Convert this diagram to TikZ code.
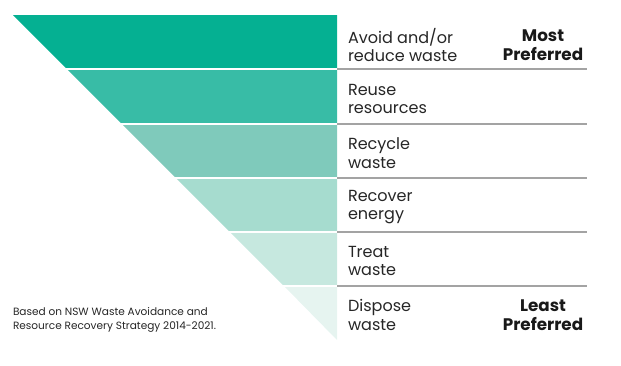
\documentclass[tikz,border=0pt]{standalone}
\usepackage{fontspec}
\setmainfont{Poppins}
\usepackage{tikz}

\definecolor{bandA}{HTML}{05B092}
\definecolor{bandB}{HTML}{38BCA6}
\definecolor{bandC}{HTML}{7FCABB}
\definecolor{bandD}{HTML}{A6DCCF}
\definecolor{bandE}{HTML}{C6E8DF}
\definecolor{bandF}{HTML}{E6F4F0}
\definecolor{rulegray}{HTML}{A3A3A3}

\begin{document}
\begin{tikzpicture}[x=0.03cm, y=-0.03cm]
\tikzset{ inner sep=0pt, outer sep=0pt,
  level/.style={anchor=west, align=left, font=\fontsize{13.7}{16}\selectfont, text=black!85},
  pref/.style={align=center, font=\fontsize{14.3}{16}\selectfont\bfseries, text=black!90},
  band/.style={draw=white, line width=1.2pt},
}

%\draw [lightgray, dashed](0,0) grid [step=50] (621,365);
\useasboundingbox (0,0) rectangle (621,365);

% the six bands of the hierarchy
\fill [bandA] (13,15)   -- (337,15)  -- (337,69)  -- (67,69)   -- cycle;
\fill [bandB] (67,69)   -- (337,69)  -- (337,124) -- (122,124) -- cycle;
\fill [bandC] (122,124) -- (337,124) -- (337,178) -- (176,178) -- cycle;
\fill [bandD] (176,178) -- (337,178) -- (337,232) -- (230,232) -- cycle;
\fill [bandE] (230,232) -- (337,232) -- (337,286) -- (284,286) -- cycle;
\fill [bandF] (284,286) -- (337,286) -- (337,340) -- cycle;

\foreach \y in {69,124,178,232,286} {
  \draw [band] (0,\y) -- (337,\y);
  \draw [rulegray, line width=0.9pt] (337,\y) -- (587,\y);
}

\node [level] (avoid)   at (348,45)  {Avoid and/or\\reduce waste};
\node [level] (reuse)   at (348,99)  {Reuse\\resources};
\node [level] (recycle) at (348,153) {Recycle\\waste};
\node [level] (recover) at (348,207) {Recover\\energy};
\node [level] (treat)   at (348,261) {Treat\\waste};
\node [level] (dispose) at (348,315) {Dispose\\waste};

\node [pref] (most)  at (543,45)  {Most\\Preferred};
\node [pref] (least) at (543,315) {Least\\Preferred};

\node [anchor=west, align=left, font=\fontsize{9}{12.5}\selectfont, text=black!85] (source) at (13,320)
  {Based on NSW Waste Avoidance and\\Resource Recovery Strategy 2014-2021.};
\end{tikzpicture}
\end{document}
